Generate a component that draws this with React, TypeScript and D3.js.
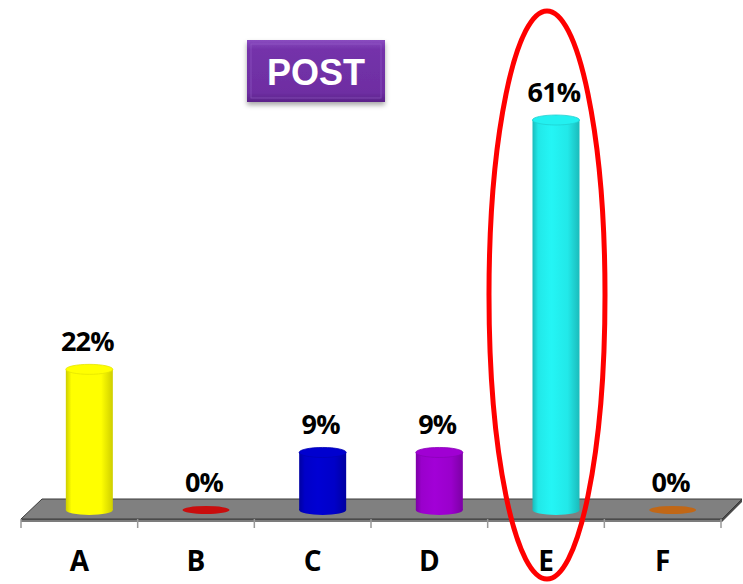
import React from "react";
import * as d3 from "d3";

const categories = ["A", "B", "C", "D", "E", "F"];
const values = [22, 0, 9, 9, 61, 0];
const labels = ["22%", "0%", "9%", "9%", "61%", "0%"];
const colors = ["#FFFF00", "#D00000", "#0000C8", "#9A00CC", "#22E8E8", "#C8640A"];
const title = "POST";

const W = 743;
const H = 584;
const FONT = "'Open Sans', Lato, sans-serif";

export default function App() {
  const x = d3.scaleBand<string>().domain(categories).range([21, 721]).paddingInner(0).paddingOuter(0);
  const y = d3.scaleLinear().domain([0, 61]).range([510, 120]);
  const bw = x.bandwidth();
  const depthShift = 10;
  const barW = 47;
  const ry = 5;

  const shade = (c: string, k: number) => {
    const col = d3.color(c)!;
    return k > 0 ? col.brighter(k).formatHex() : col.darker(-k).formatHex();
  };

  const ticks = d3.range(categories.length + 1).map((i) => 21 + i * bw);

  return (
    <div style={{ position: "absolute", left: 0, top: 0, width: W, height: H, background: "#fff" }}>
      <svg width={W} height={H} style={{ display: "block" }}>
        <defs>
          {colors.map((c, i) => (
            <linearGradient key={i} id={`g${i}`} x1="0" x2="1" y1="0" y2="0">
              <stop offset="0%" stopColor={shade(c, -0.6)} />
              <stop offset="12%" stopColor={c} />
              <stop offset="40%" stopColor={shade(c, 0.15)} />
              <stop offset="75%" stopColor={c} />
              <stop offset="100%" stopColor={shade(c, -0.6)} />
            </linearGradient>
          ))}
          <linearGradient id="post" x1="0" x2="0" y1="0" y2="1">
            <stop offset="0%" stopColor="#8a4cc0" />
            <stop offset="15%" stopColor="#7432aa" />
            <stop offset="85%" stopColor="#6e2ea2" />
            <stop offset="100%" stopColor="#5a2288" />
          </linearGradient>
          <filter id="sh" x="-20%" y="-20%" width="140%" height="160%">
            <feDropShadow dx="0" dy="3" stdDeviation="2.5" floodColor="#000" floodOpacity="0.35" />
          </filter>
        </defs>

        {/* floor */}
        <polygon points="21,519 722,519 722,522 21,522" fill="#5a5a5a" />
        <polygon points="722,519 742,499 742,502 722,522" fill="#4a4a4a" />
        <polygon points="21,519 42,499 742,499 722,519" fill="#808080" stroke="#3a3a3a" strokeWidth={1} />
        {/* axis */}
        <line x1={21} x2={722} y1={521} y2={521} stroke="#888" strokeWidth={1.5} />
        {ticks.map((t, i) => (
          <line key={i} x1={t} x2={t} y1={519} y2={528} stroke="#999" strokeWidth={1.5} />
        ))}

        {/* bars */}
        {categories.map((c, i) => {
          const cx = (x(c) ?? 0) + bw / 2 + depthShift;
          const top = y(values[i]);
          const base = y(0);
          if (values[i] === 0) {
            return (
              <ellipse key={c} cx={cx} cy={base} rx={barW / 2} ry={4} fill={colors[i]} opacity={0.9} />
            );
          }
          return (
            <g key={c}>
              <ellipse cx={cx} cy={base} rx={barW / 2} ry={ry} fill={`url(#g${i})`} />
              <rect x={cx - barW / 2} y={top} width={barW} height={base - top} fill={`url(#g${i})`} />
              <ellipse cx={cx} cy={top} rx={barW / 2} ry={ry} fill={shade(colors[i], 0.1)} stroke={shade(colors[i], -0.3)} strokeWidth={0.8} />
            </g>
          );
        })}

        {/* value labels */}
        {categories.map((c, i) => {
          const cx = (x(c) ?? 0) + bw / 2 + depthShift - 2;
          const top = y(values[i]);
          return (
            <text key={c} x={cx} y={top - 18} textAnchor="middle" fontFamily={FONT} fontWeight={700} fontSize={27} letterSpacing={-0.8} fill="#000">
              {labels[i]}
            </text>
          );
        })}

        {/* category labels */}
        {categories.map((c) => (
          <text key={c} x={(x(c) ?? 0) + bw / 2} y={571} textAnchor="middle" fontFamily={FONT} fontWeight={700} fontSize={28} fill="#000">
            {c}
          </text>
        ))}

        {/* title box */}
        <g filter="url(#sh)">
          <rect x={247} y={40} width={138} height={62} fill="url(#post)" />
          <rect x={251} y={44} width={130} height={54} fill="none" stroke="#9a66cc" strokeOpacity={0.5} strokeWidth={1} />
        </g>
        <text x={316} y={85} textAnchor="middle" fontFamily="'Liberation Sans', Arial, sans-serif" fontWeight={700} fontSize={36} fill="#fff">
          {title}
        </text>

        {/* highlight ellipse */}
        <ellipse cx={547} cy={295} rx={58} ry={284} fill="none" stroke="#FF0000" strokeWidth={5} />
      </svg>
    </div>
  );
}
